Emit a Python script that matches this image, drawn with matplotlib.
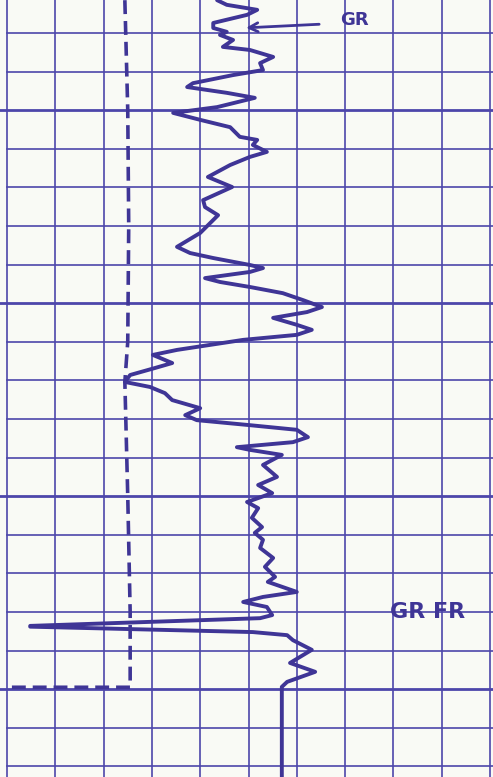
import matplotlib
matplotlib.use("Agg")
import matplotlib.pyplot as plt

# gamma ray log, values in chart divisions (x: GR reading, y: depth)
gr_depth = [-0.85, -0.73, -0.60, -0.47, -0.26, -0.13, -0.03, 0.05, 0.18, 0.36, 0.44, 0.62,
            0.78, 0.96, 1.09, 1.30, 1.40, 1.55, 1.68, 1.92, 2.07, 2.25, 2.44, 2.69, 2.77,
            2.90, 3.08, 3.21, 3.42, 3.73, 3.99, 4.33, 4.51, 4.72, 5.18, 5.54, 5.70, 5.83,
            6.01, 6.09, 6.19, 6.35, 6.45, 6.58, 6.74, 6.92, 7.10, 7.23, 7.38, 7.56, 7.69,
            7.82, 7.95, 8.21, 8.34, 8.55, 8.68, 8.86, 9.04, 9.17, 9.33, 9.51, 9.72, 9.90,
            10.03, 10.16, 10.28, 10.47, 10.60, 10.73, 10.80, 10.93, 11.19, 11.50, 11.71,
            11.92, 12.15, 12.31, 12.56, 12.80, 12.95, 13.13, 13.34, 13.60, 13.83, 14.09,
            14.22, 14.48, 14.61, 14.74, 14.87, 15.08, 15.16, 15.36, 15.38, 15.52, 15.60,
            15.73, 15.98, 16.32, 16.55, 16.81, 16.94, 19.27]
gr_value = [4.35, 4.55, 5.18, 4.97, 4.27, 4.27, 4.55, 4.41, 4.68, 4.47, 5.03, 5.51,
            5.24, 5.30, 4.68, 3.85, 3.73, 4.55, 5.13, 4.35, 3.44, 4.00, 4.62, 4.82, 5.18,
            5.09, 5.38, 5.03, 4.62, 4.16, 4.66, 4.06, 4.10, 4.37, 4.00, 3.52, 3.79, 4.27,
            5.03, 5.30, 5.03, 4.10, 4.41, 5.03, 5.71, 6.13, 6.52, 6.21, 5.51, 6.00, 6.31,
            6.00, 4.89, 3.52, 3.02, 3.42, 3.06, 2.55, 2.44, 2.96, 3.27, 3.42, 4.00, 3.69,
            3.93, 5.03, 6.00, 6.23, 5.92, 4.76, 5.03, 5.69, 5.30, 5.59, 5.20,
            5.49, 4.97, 5.20, 5.07, 5.28, 5.13, 5.30, 5.24, 5.51, 5.34, 5.55,
            5.40, 6.00, 5.30, 4.89, 5.38, 5.49, 5.24, 0.48, 0.48, 5.09, 5.80,
            5.92, 6.31, 5.86, 6.38, 5.80, 5.69, 5.69]

# dashed curve
fr_depth = [-0.85, 2.0, 5.0, 8.0, 9.04, 12.0, 15.0, 16.95, 16.95]
fr_value = [2.44, 2.50, 2.52, 2.50, 2.44, 2.50, 2.55, 2.55, 0.05]

n_rows = 20
n_cols = 10

ink = "#3f3596"
grid_ink = "#4d46aa"
paper = "#f9faf5"

plt.rcParams['lines.scale_dashes'] = False

fig = plt.figure(figsize=(4.93, 7.77), dpi=100)
fig.patch.set_facecolor(paper)
ax = fig.add_axes([0, 0, 1, 1])
ax.set_facecolor(paper)
xmin, xmax = -7 / 48.3, 486 / 48.3
ymin, ymax = -33 / 38.6, 744 / 38.6
ax.set_xlim(xmin, xmax)
ax.set_ylim(ymax, ymin)
ax.axis("off")

for i in range(n_rows):
    heavy = (i % 5 == 2)
    ax.plot([0 if not heavy else xmin, xmax], [i, i], color=grid_ink,
            lw=2.0 if heavy else 1.2, zorder=1)
for j in range(n_cols + 1):
    ax.plot([j, j], [ymin, ymax], color=grid_ink, lw=1.2, zorder=1)

ax.plot(fr_value, fr_depth, color=ink, lw=2.6, dashes=(10, 5), zorder=2)
ax.plot(gr_value, gr_depth, color=ink, lw=2.8, solid_joinstyle="round",
        solid_capstyle="round", zorder=3)

ax.annotate("", xy=(4.89, -0.13), xytext=(6.52, -0.23),
            arrowprops=dict(arrowstyle="->", color=ink, lw=2.0, mutation_scale=16))
ax.text(7.2, -0.34, "GR", color=ink, fontsize=13, fontweight="bold",
        family="DejaVu Sans", ha="center", va="center")
ax.text(8.7, 15.0, "GR FR", color=ink, fontsize=16, fontweight="bold",
        family="DejaVu Sans", ha="center", va="center")

fig.savefig("out.png", dpi=100, facecolor=paper)
